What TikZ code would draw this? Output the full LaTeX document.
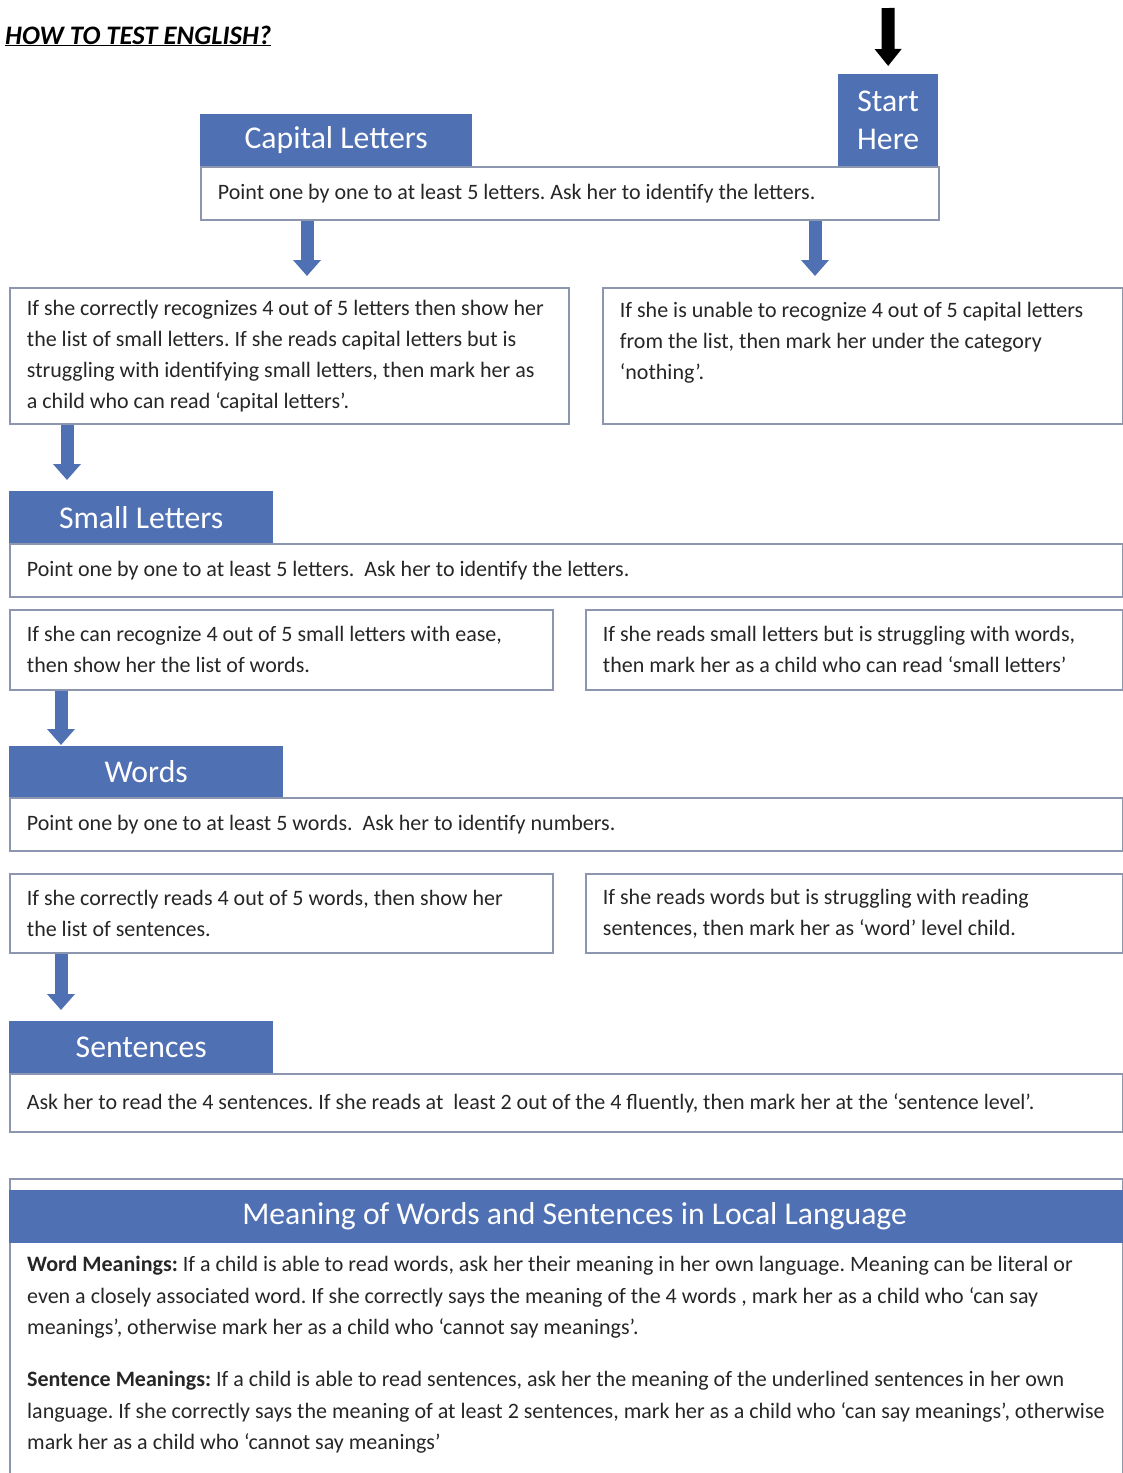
\documentclass[tikz,border=0pt]{standalone}
\usepackage{fontspec}
\setmainfont{Carlito}
\usetikzlibrary{arrows.meta,positioning}
\definecolor{hdblue}{RGB}{80,112,180}
\definecolor{edgegray}{RGB}{140,150,175}
\definecolor{bodytxt}{RGB}{38,38,38}
\tikzset{
  hdbox/.style={fill=hdblue, text=white, inner sep=0pt, anchor=north west, font=\fontsize{31.7}{38}\selectfont},
  txtbox/.style={draw=edgegray, line width=1.8pt, fill=white, anchor=north west, inner xsep=17pt, inner ysep=0pt, text=bodytxt, align=flush left, font=\fontsize{22}{31}\selectfont},
  meantxt/.style={anchor=north west, inner sep=0pt, align=left, text=bodytxt, font=\fontsize{22}{31.5}\selectfont},
  flowarrow/.style={draw=hdblue, line width=13pt, -{Triangle[width=27pt,length=16pt]}},
}
\frenchspacing

\begin{document}
\begin{tikzpicture}[x=1pt, y=-1pt]
\useasboundingbox (0,0) rectangle (1123,1473);
% titolo e ingresso
\node[anchor=base west, inner sep=0pt, font=\fontsize{26.7}{30}\selectfont\bfseries\itshape] (title) at (5,44) {\underline{HOW TO TEST ENGLISH?}};
\coordinate (entry) at (888,8);
\node[hdbox, minimum width=100pt, minimum height=92pt, align=center] (start) at (838,74) {Start\\Here};
\draw[line width=13pt, -{Triangle[width=26pt,length=17pt]}, shorten >=8pt] (entry) -- (start.north);

% capital letters
\node[hdbox, minimum width=272pt, minimum height=52pt] (caphd) at (200,114) {Capital Letters};
\node[txtbox, text width=704pt, minimum height=53pt] (capbody) at (200,166) {Point one by one to at least 5 letters. Ask her to identify the letters.};
\node[txtbox, text width=525pt, minimum height=136pt] (left1) at (9,287) {If she correctly recognizes 4 out of 5 letters then show her\\the list of small letters. If she reads capital letters but is\\struggling with identifying small letters, then mark her as\\a child who can read ‘capital letters’.};
\node[txtbox, text width=486pt, minimum height=136pt] (right1) at (602,287) {If she is unable to recognize 4 out of 5 capital letters\\from the list, then mark her under the category\\‘nothing’.\\\mbox{}};
\draw[flowarrow] ([xshift=107pt]capbody.south west) -- ([xshift=298pt,yshift=11pt]left1.north west);
\draw[flowarrow] ([xshift=615pt]capbody.south west) -- ([xshift=213pt,yshift=11pt]right1.north west);

% small letters
\node[hdbox, minimum width=264pt, minimum height=52pt] (smallhd) at (9,491) {Small Letters};
\node[txtbox, text width=1079pt, minimum height=53pt] (smallbody) at (9,543) {Point one by one to at least 5 letters.\ \ Ask her to identify the letters.};
\node[txtbox, text width=509pt, minimum height=80pt] (left2) at (9,609) {If she can recognize 4 out of 5 small letters with ease,\\then show her the list of words.};
\node[txtbox, text width=503pt, minimum height=80pt] (right2) at (585,609) {If she reads small letters but is struggling with words,\\then mark her as a child who can read ‘small letters’};
\draw[flowarrow] ([xshift=58pt]left1.south west) -- ([xshift=58pt,yshift=11pt]smallhd.north west);

% words
\node[hdbox, minimum width=274pt, minimum height=51pt] (wordshd) at (9,746) {Words};
\node[txtbox, text width=1079pt, minimum height=53pt] (wordsbody) at (9,797) {Point one by one to at least 5 words.\ \ Ask her to identify numbers.};
\node[txtbox, text width=509pt, minimum height=79pt] (left3) at (9,873) {If she correctly reads 4 out of 5 words, then show her\\the list of sentences.};
\node[txtbox, text width=503pt, minimum height=79pt] (right3) at (585,873) {If she reads words but is struggling with reading\\sentences, then mark her as ‘word’ level child.};
\draw[flowarrow] ([xshift=52pt]left2.south west) -- ([xshift=52pt,yshift=1pt]wordshd.north west);

% sentences
\node[hdbox, minimum width=264pt, minimum height=52pt] (senthd) at (9,1021) {Sentences};
\node[txtbox, text width=1079pt, minimum height=58pt] (sentbody) at (9,1073) {Ask her to read the 4 sentences. If she reads at\ \ least 2 out of the 4 fluently, then mark her at the ‘sentence level’.};
\draw[flowarrow] ([xshift=52pt]left3.south west) -- ([xshift=52pt,yshift=11pt]senthd.north west);

% meaning in local language
\node[draw=edgegray, line width=1.8pt, anchor=north west, minimum width=1113pt, minimum height=330pt] (meanbox) at (9,1178) {};
\node[hdbox, minimum width=1131pt, minimum height=53pt] (meanhd) at (9,1190) {Meaning of Words and Sentences in Local Language};
\node[meantxt] (wordmean) at (27,1256) {\textbf{Word Meanings:} If a child is able to read words, ask her their meaning in her own language. Meaning can be literal or\\even a closely associated word. If she correctly says the meaning of the 4 words , mark her as a child who ‘can say\\meanings’, otherwise mark her as a child who ‘cannot say meanings’.};
\node[meantxt] (sentmean) at (27,1371) {\textbf{Sentence Meanings:} If a child is able to read sentences, ask her the meaning of the underlined sentences in her own\\language. If she correctly says the meaning of at least 2 sentences, mark her as a child who ‘can say meanings’, otherwise\\mark her as a child who ‘cannot say meanings’};
\end{tikzpicture}
\end{document}
